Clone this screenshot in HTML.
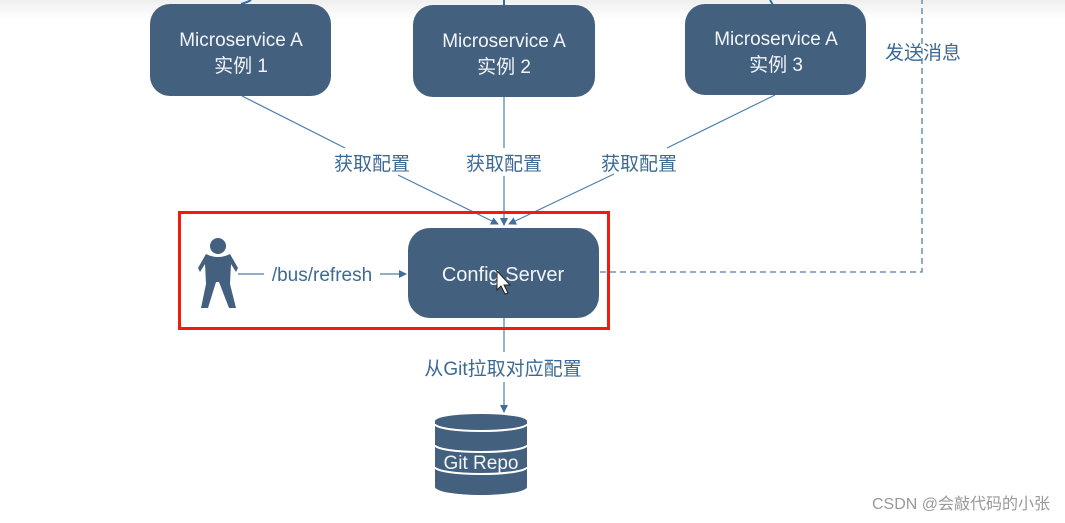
<!DOCTYPE html>
<html><head><meta charset="utf-8"><style>
html,body{margin:0;padding:0;background:#fff;width:1065px;height:523px;overflow:hidden}
svg{display:block}
text{font-family:"Liberation Sans","Noto Sans CJK SC",sans-serif}
</style></head><body>
<svg width="1065" height="523" viewBox="0 0 1065 523" xmlns="http://www.w3.org/2000/svg">
<defs>
<linearGradient id="tg" x1="0" y1="0" x2="0" y2="1"><stop offset="0" stop-color="#efefef"/><stop offset="1" stop-color="#ffffff"/></linearGradient>
<marker id="ah" markerWidth="8" markerHeight="8" refX="7" refY="4" orient="auto" markerUnits="userSpaceOnUse"><path d="M0,0 L8,4 L0,8 Z" fill="#3f6f9c"/></marker>
</defs>
<rect x="0" y="0" width="1065" height="20" fill="url(#tg)"/>
<path d="M241,4 Q248,2 251,0" stroke="#2f6fa8" stroke-width="2" fill="none"/>
<line x1="504" y1="0" x2="504" y2="6" stroke="#2f6fa8" stroke-width="2"/>
<line x1="770" y1="0" x2="773" y2="5" stroke="#2f6fa8" stroke-width="2"/>
<path d="M600,272 H922 V0" stroke="#4f7fae" stroke-width="1.3" stroke-dasharray="6,4" fill="none"/>
<g stroke="#4a7eae" stroke-width="1.2" fill="none">
<line x1="242" y1="96" x2="345" y2="148"/>
<line x1="398" y1="175" x2="498" y2="224" marker-end="url(#ah)"/>
<line x1="504" y1="97" x2="504" y2="148"/>
<line x1="504" y1="176" x2="504" y2="225" marker-end="url(#ah)"/>
<line x1="775" y1="95" x2="667" y2="148"/>
<line x1="614" y1="174" x2="509" y2="224" marker-end="url(#ah)"/>
<line x1="238" y1="274" x2="264" y2="274"/>
<line x1="380" y1="274" x2="406" y2="274" marker-end="url(#ah)"/>
<line x1="504" y1="318" x2="504" y2="352"/>
<line x1="504" y1="382" x2="504" y2="412" marker-end="url(#ah)"/>
</g>
<g fill="#44607f">
<rect x="150" y="4" width="181" height="92" rx="20"/>
<rect x="413" y="5" width="182" height="92" rx="20"/>
<rect x="685" y="4" width="181" height="91" rx="20"/>
<rect x="408" y="228" width="191" height="90" rx="22"/>
</g>
<g fill="#f2f5f8" font-size="19" text-anchor="middle">
<text x="241" y="46">Microservice A</text><text x="241" y="72">实例 1</text>
<text x="504" y="47">Microservice  A</text><text x="504" y="73">实例 2</text>
<text x="776" y="45">Microservice A</text><text x="776" y="71">实例 3</text>
<text x="503" y="281" font-size="20">Config Server</text>
</g>
<path d="M497,271 L497,290 L501,286 L505,294 L508,293 L504,285 L510,285 Z" fill="#fff" stroke="#222" stroke-width="1"/>
<g fill="#3c6a94" font-size="19" text-anchor="middle">
<text x="372" y="170">获取配置</text>
<text x="504" y="170">获取配置</text>
<text x="639" y="170">获取配置</text>
<text x="923" y="59">发送消息</text>
<text x="322" y="281">/bus/refresh</text>
<text x="503" y="375">从Git拉取对应配置</text>
</g>
<rect x="179.5" y="212.5" width="429" height="116" fill="none" stroke="#f21c0c" stroke-width="3"/>
<g fill="#44607f">
<circle cx="218" cy="246" r="8"/>
<path d="M206,254 Q218,260 230,254 L238,268 L236,272 L231,264 L230,284 L236,308 L229,308 L219,282 L216,282 L208,308 L201,308 L206,284 L205,264 L200,272 L198,268 Z"/>
</g>
<g>
<path d="M435,421 A46,7 0 0 1 527,421 V487 A46,8 0 0 1 435,487 Z" fill="#44607f"/>
<path d="M435,424 A46,7 0 0 0 527,424" stroke="#fff" stroke-width="2" fill="none"/>
<path d="M435,445 A46,7 0 0 0 527,445" stroke="#fff" stroke-width="2" fill="none"/>
<path d="M435,467 A46,7 0 0 0 527,467" stroke="#fff" stroke-width="2" fill="none"/>
<text x="481" y="469" fill="#f2f5f8" font-size="19" text-anchor="middle">Git Repo</text>
</g>
<text x="1050" y="509" fill="#999" font-size="16" text-anchor="end">CSDN @会敲代码的小张</text>
</svg>
</body></html>
